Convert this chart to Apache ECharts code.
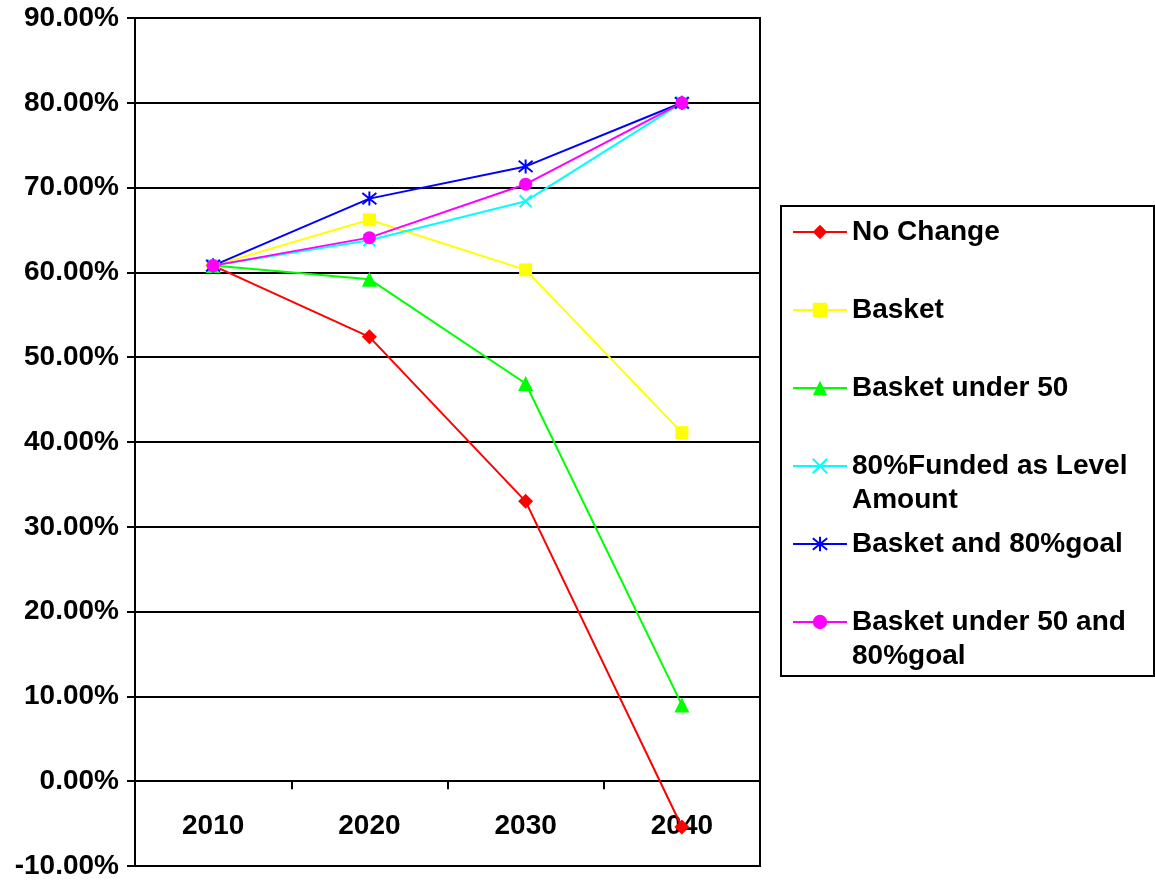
<!DOCTYPE html>
<html>
<head>
<meta charset="utf-8">
<script src="https://cdn.jsdelivr.net/npm/echarts@6/dist/echarts.min.js"></script>
<style>html,body{margin:0;padding:0;background:#fff}#c{width:1155px;height:882px}</style>
</head>
<body>
<div id="c"></div>
<script>
const categories = ['2010', '2020', '2030', '2040'];
const seriesNames = ['No Change', 'Basket', 'Basket under 50', '80%Funded as Level Amount', 'Basket and 80%goal', 'Basket under 50 and 80%goal'];
const noChange = [60.8, 52.4, 33.0, -5.4];
const basket = [60.8, 66.2, 60.3, 41.1];
const basketUnder50 = [60.8, 59.2, 46.9, 9.0];
const funded80Level = [60.8, 63.8, 68.4, 80.0];
const basket80Goal = [60.8, 68.7, 72.5, 80.0];
const basketUnder50Goal = [60.8, 64.1, 70.4, 80.0];
const yTicks = { min: -10, max: 90, interval: 10 };

const FONT = 'Liberation Sans';
const FS = 28;
const colors = ['#FF0000', '#FFFF00', '#00FF00', '#00FFFF', '#0000FF', '#FF00FF'];
const symbols = [
  'diamond', 'rect', 'triangle',
  'path://M0,0L10,10M10,0L0,10',
  'path://M5,0L5,10M1,1L9,9M9,1L1,9',
  'circle'
];
const sizes = [15, 13, 15, 12, 14, 13];
const dataArr = [noChange, basket, basketUnder50, funded80Level, basket80Goal, basketUnder50Goal];
const legendLabel = {
  '80%Funded as Level Amount': '\n80%Funded as Level\nAmount',
  'Basket under 50 and 80%goal': '\nBasket under 50 and\n80%goal'
};
const legendCenters = [232, 310, 388, 466, 544, 622];

const series = seriesNames.map((n, i) => {
  const isStroke = i === 3 || i === 4;
  return {
    name: n, type: 'line', data: dataArr[i],
    symbol: symbols[i], symbolSize: sizes[i],
    lineStyle: { color: colors[i], width: 2 },
    itemStyle: isStroke ? { color: colors[i], borderColor: colors[i], borderWidth: 2 } : { color: colors[i], borderWidth: 0 },
    emphasis: { disabled: true },
    animation: false
  };
});

const legends = seriesNames.map((n, i) => {
  const twoLine = !!legendLabel[n];
  return {
    data: [n], orient: 'vertical', left: 792,
    top: legendCenters[i] - (twoLine ? 51 : 17),
    padding: 0, itemWidth: 54, itemHeight: 18,
    selectedMode: false,
    formatter: name => legendLabel[name] || name,
    textStyle: { fontFamily: FONT, fontWeight: 'bold', fontSize: FS, color: '#000', lineHeight: 34 }
  };
});

const chart = echarts.init(document.getElementById('c'), null, { renderer: 'canvas' });
chart.setOption({
  animation: false,
  backgroundColor: '#fff',
  grid: { left: 135, right: 395, top: 18, bottom: 16, outerBoundsMode: 'none', containLabel: false, show: true, borderColor: '#000', borderWidth: 2, backgroundColor: 'transparent' },
  legend: legends,
  graphic: [{ type: 'rect', shape: { x: 781, y: 206, width: 373, height: 470 }, style: { fill: 'none', stroke: '#000', lineWidth: 2 }, z: 0 }],
  xAxis: {
    type: 'category', data: categories, boundaryGap: true,
    axisLine: { onZero: true, lineStyle: { color: '#000', width: 2 } },
    axisTick: { show: true, inside: false, length: 8, lineStyle: { color: '#000', width: 2 } },
    axisLabel: { margin: -54, fontFamily: FONT, fontWeight: 'bold', fontSize: FS, color: '#000' },
    splitLine: { show: false }
  },
  yAxis: {
    type: 'value', min: yTicks.min, max: yTicks.max, interval: yTicks.interval,
    axisLine: { show: true, lineStyle: { color: '#000', width: 2 } },
    axisTick: { show: true, length: 8, lineStyle: { color: '#000', width: 2 } },
    axisLabel: { margin: 16, fontFamily: FONT, fontWeight: 'bold', fontSize: FS, color: '#000', formatter: v => v.toFixed(2) + '%' },
    splitLine: { show: true, lineStyle: { color: '#000', width: 2 } }
  },
  series: series
});
</script>
</body>
</html>
